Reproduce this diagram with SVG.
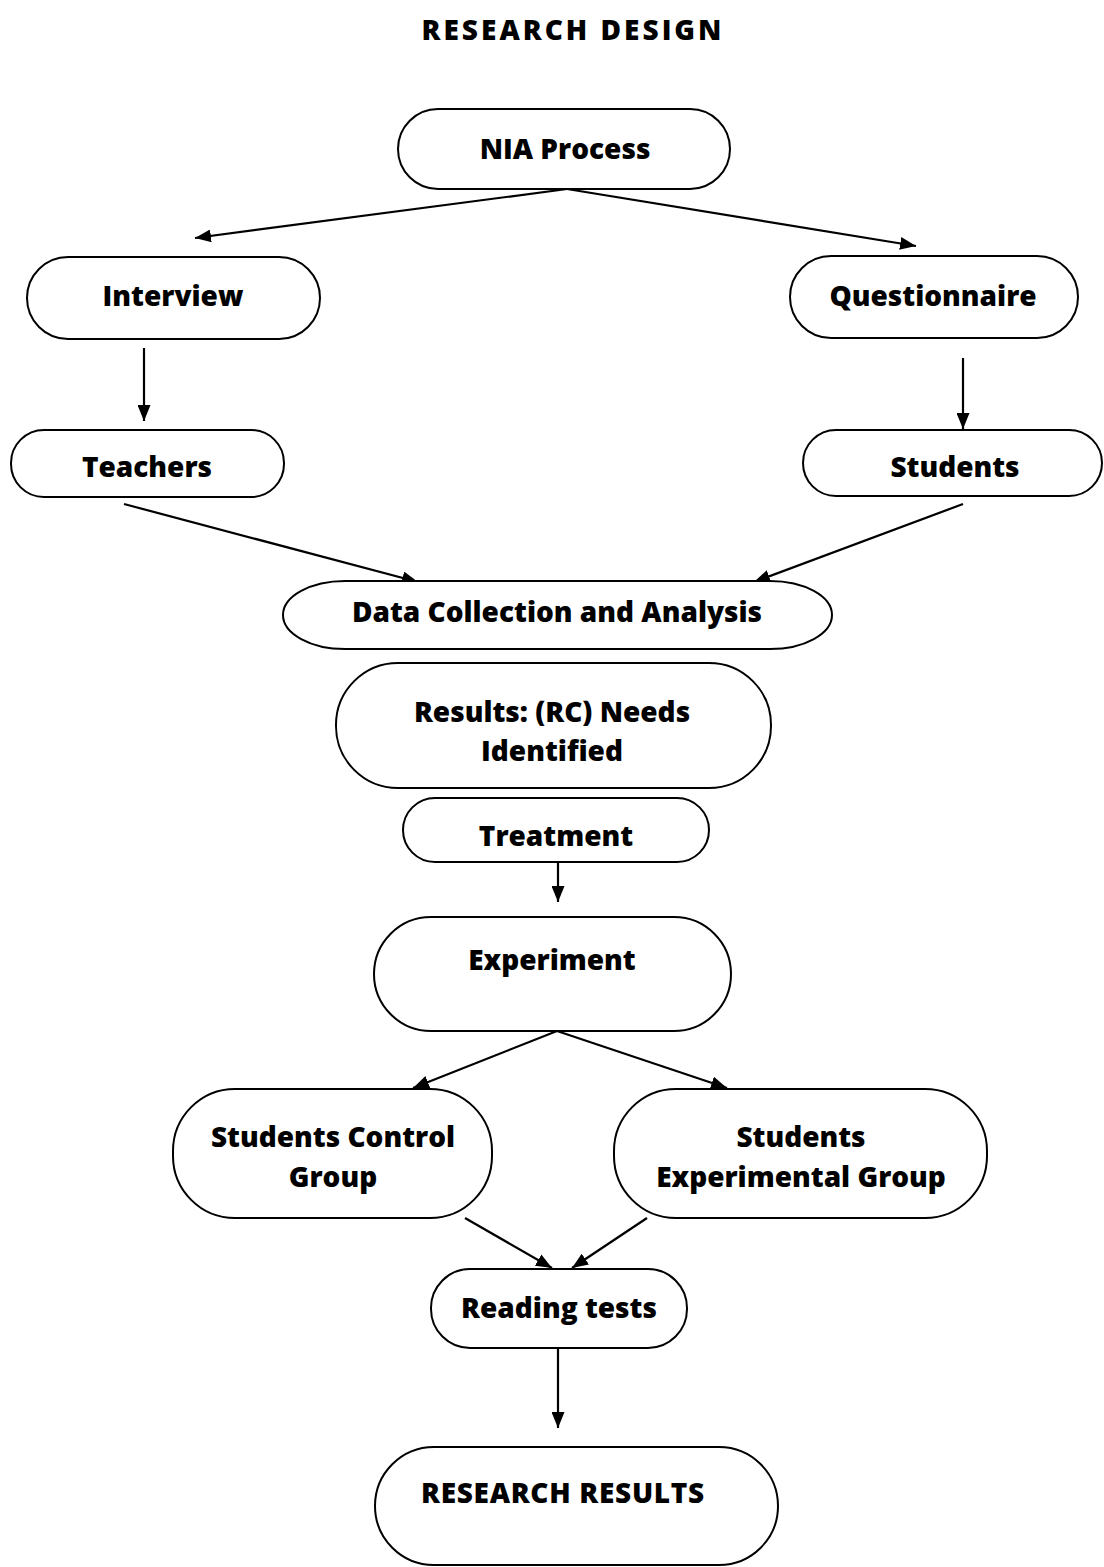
<svg xmlns="http://www.w3.org/2000/svg" width="1104" height="1567" viewBox="0 0 1104 1567">
<style>
.n{fill:#fff;stroke:#000;stroke-width:2}
.t{font-family:"Open Sans",Lato,sans-serif;font-weight:800;font-size:28px;text-anchor:middle;fill:#000}
.c{stroke:#000;stroke-width:2.2;fill:none;marker-end:url(#ah)}
</style>
<defs>
<marker id="ah" viewBox="0 0 16 13" refX="16" refY="6.5" markerWidth="16" markerHeight="13" markerUnits="userSpaceOnUse" orient="auto"><path d="M0,0 L16,6.5 L0,13 z" fill="#000"/></marker>
</defs>
<rect width="1104" height="1567" fill="#fff"/>
<text class="t" x="573" y="40" font-size="42" letter-spacing="3">RESEARCH DESIGN</text>
<g id="connectors">
<path d="M567,189 L195,238" class="c"/>
<path d="M567,189 L916,246" class="c"/>
<path d="M144,348 L144,421" class="c"/>
<path d="M963,358 L963,429" class="c"/>
<path d="M124,504 L418,582" class="c"/>
<path d="M963,504 L754,582" class="c"/>
<path d="M558,862 L558,902" class="c"/>
<path d="M557,1031 L413,1088" class="c"/>
<path d="M557,1031 L727,1088" class="c"/>
<path d="M465,1218 L552,1268" class="c"/>
<path d="M647,1218 L572,1268" class="c"/>
<path d="M558,1348 L558,1428" class="c"/>
</g>
<g id="nia"><rect class="n" x="398" y="109" width="332" height="80" rx="40"/><text class="t" x="565" y="159">NIA Process</text></g>
<g id="interview"><rect class="n" x="27" y="257" width="293" height="82" rx="41"/><text class="t" x="173" y="306">Interview</text></g>
<g id="questionnaire"><rect class="n" x="790" y="256" width="288" height="82" rx="41"/><text class="t" x="933" y="306">Questionnaire</text></g>
<g id="teachers"><rect class="n" x="11" y="430" width="273" height="67" rx="33"/><text class="t" x="147" y="477">Teachers</text></g>
<g id="students"><rect class="n" x="803" y="430" width="299" height="66" rx="33"/><text class="t" x="955" y="477">Students</text></g>
<g id="data"><rect class="n" x="283" y="581" width="549" height="68" rx="62" ry="34"/><text class="t" x="557" y="622">Data Collection and Analysis</text></g>
<g id="results"><rect class="n" x="336" y="663" width="435" height="125" rx="62"/><text class="t" x="552" y="722">Results: (RC) Needs</text><text class="t" x="552" y="761">Identified</text></g>
<g id="treatment"><rect class="n" x="403" y="798" width="306" height="64" rx="32"/><text class="t" x="556" y="846">Treatment</text></g>
<g id="experiment"><rect class="n" x="374" y="917" width="357" height="114" rx="57"/><text class="t" x="552" y="970">Experiment</text></g>
<g id="control"><rect class="n" x="173" y="1089" width="319" height="129" rx="62"/><text class="t" x="333" y="1147">Students Control</text><text class="t" x="333" y="1187">Group</text></g>
<g id="experimental"><rect class="n" x="614" y="1089" width="373" height="129" rx="62"/><text class="t" x="801" y="1147">Students</text><text class="t" x="801" y="1187">Experimental Group</text></g>
<g id="reading"><rect class="n" x="431" y="1269" width="256" height="79" rx="39"/><text class="t" x="559" y="1318">Reading tests</text></g>
<g id="final"><rect class="n" x="375" y="1447" width="403" height="118" rx="59"/><text class="t" x="563" y="1503" letter-spacing="0.7">RESEARCH RESULTS</text></g>
</svg>
